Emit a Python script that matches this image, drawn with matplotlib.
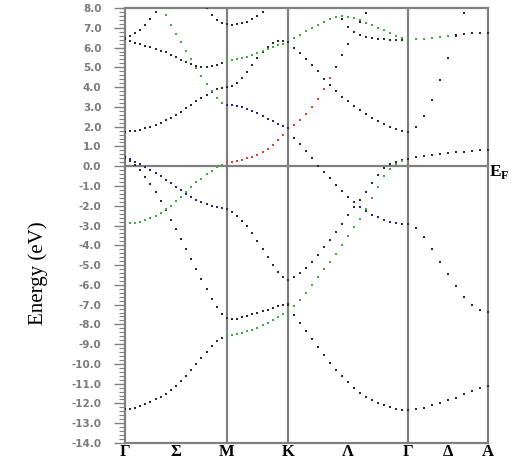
"""Band structure along Γ-M-K-Γ-A drawn as dotted bands."""
import matplotlib
matplotlib.use("Agg")
import matplotlib.pyplot as plt
from matplotlib.ticker import MultipleLocator, FormatStrFormatter
import numpy as np

plt.rcParams["axes.unicode_minus"] = False

K_LABELS    = ["Γ", "Σ", "M", "K", "Λ", "Γ", "Δ", "A"]
SEG_LENGTHS = [0.577, 0.345, 0.679, 0.453]   # Γ-M, M-K, K-Γ, Γ-A
SEG_POINTS  = [21, 13, 21, 11]

COLORS = {"k": "#2b2b2b", "g": "#3fae3f", "b": "#25258c", "r": "#e03a3a"}
FRAME  = "#808080"

# (colour, first k index, energies in eV)
GM_BANDS = [
    ("k", 0, [-12.3, -12.28, -12.25, -12.15, -12.05, -11.95, -11.8, -11.65, -11.5, -11.3, -11.1,
              -10.85, -10.6, -10.3, -10.0, -9.7, -9.4, -9.1, -8.85, -8.7, -8.6]),
    ("k", 0, [0.4, 0.25, 0.05, -0.2, -0.55, -0.9, -1.3, -1.75, -2.2, -2.7, -3.2,
              -3.7, -4.2, -4.7, -5.2, -5.7, -6.2, -6.7, -7.1, -7.5, -7.7]),
    ("b", 0, [0.45, 0.35, 0.2, 0.1, -0.05, -0.2, -0.35, -0.5, -0.7, -0.85, -1.05,
              -1.2, -1.4, -1.55, -1.7, -1.8, -1.9, -2.0, -2.05, -2.1, -2.15]),
    ("g", 0, [-2.9, -2.88, -2.85, -2.8, -2.72, -2.62, -2.5, -2.35, -2.18, -2.0, -1.78,
              -1.55, -1.3, -1.05, -0.8, -0.65, -0.42, -0.22, -0.05, 0.08, 0.18]),
    ("k", 0, [1.75, 1.76, 1.8, 1.85, 1.92, 2.0, 2.1, 2.2, 2.32, 2.45, 2.6,
              2.75, 2.92, 3.1, 3.28, 3.45, 3.62, 3.77, 3.88, 3.96, 4.0]),
    ("k", 0, [6.45, 6.35, 6.25, 6.18, 6.1, 6.02, 5.95, 5.85, 5.75, 5.62, 5.5,
              5.38, 5.25, 5.15, 5.07, 5.02, 5.0, 5.05, 5.12, 5.22, 5.32]),
    ("k", 0, [6.5, 6.58, 6.72, 6.9, 7.12, 7.45, 7.8, 8.2]),
    ("g", 7, [8.2, 7.65, 7.15, 6.7, 6.3, 5.85, 5.4, 4.95, 4.55, 4.15, 3.8, 3.45, 3.2, 3.1]),
    ("k", 16, [8.0, 7.65, 7.4, 7.25, 7.2]),
]

MK_BANDS = [
    ("k", 0, [7.2, 7.15, 7.18, 7.22, 7.3, 7.42, 7.6, 7.8, 8.05]),
    ("k", 0, [4.0, 4.05, 4.2, 4.45, 4.75, 5.1, 5.45, 5.8, 6.05, 6.25, 6.35, 6.35, 6.3]),
    ("g", 0, [5.32, 5.35, 5.4, 5.45, 5.5, 5.6, 5.7, 5.85, 5.95, 6.05, 6.15, 6.2, 6.25]),
    ("b", 0, [3.1, 3.1, 3.05, 3.0, 2.9, 2.8, 2.7, 2.55, 2.4, 2.3, 2.15, 2.05, 1.95]),
    ("r", 0, [0.2, 0.22, 0.27, 0.33, 0.4, 0.48, 0.58, 0.72, 0.88, 1.05, 1.3, 1.6, 1.95]),
    ("k", 0, [-2.15, -2.3, -2.5, -2.75, -3.05, -3.4, -3.8, -4.2, -4.6, -5.0, -5.35, -5.6, -5.75]),
    ("k", 0, [-7.7, -7.75, -7.72, -7.65, -7.58, -7.5, -7.42, -7.33, -7.25, -7.17, -7.08, -7.02, -6.95]),
    ("g", 0, [-8.6, -8.52, -8.48, -8.42, -8.35, -8.27, -8.17, -8.05, -7.92, -7.78, -7.62, -7.46, -7.3]),
]

KG_BANDS = [
    ("g", 0, [6.25, 6.5, 6.65, 6.85, 7.0, 7.15, 7.3, 7.45, 7.55, 7.58, 7.55,
              7.5, 7.4, 7.25, 7.12, 7.0, 6.9, 6.75, 6.6, 6.5, 6.4]),
    ("k", 0, [6.3, 6.0, 5.7, 5.4, 5.1, 4.8, 4.4, 4.1, 3.8, 3.5, 3.3,
              3.05, 2.85, 2.65, 2.45, 2.3, 2.15, 2.0, 1.9, 1.8, 1.75]),
    ("r", 0, [1.95, 2.1, 2.35, 2.65, 3.0, 3.4, 3.9, 4.45]),
    ("k", 8, [5.0, 5.6, 6.2, 6.8, 7.3, 7.75, 8.2]),
    ("k", 8, [8.05, 7.45, 7.05, 6.8, 6.65, 6.55, 6.5, 6.45, 6.42, 6.4, 6.4, 6.4, 6.4]),
    ("k", 0, [1.95, 1.45, 1.1, 0.75, 0.4, 0.0, -0.3, -0.6, -0.95, -1.25]),
    ("b", 10, [-1.55, -1.8, -2.05, -2.25, -2.45, -2.55, -2.7, -2.8, -2.85, -2.9, -2.9]),
    ("k", 0, [-5.75, -5.6, -5.4, -5.15, -4.85, -4.5, -4.1, -3.75, -3.35, -2.9, -2.45,
              -2.05, -1.7, -1.3, -0.85, -0.45, -0.1, 0.1, 0.2, 0.3, 0.35]),
    ("g", 0, [-7.3, -7.05, -6.75, -6.4, -6.0, -5.6, -5.2, -4.85, -4.45, -4.0, -3.55,
              -3.1, -2.65, -2.15, -1.6, -1.05, -0.5, -0.15, 0.1, 0.25, 0.35]),
    ("k", 0, [-7.0, -7.55, -7.95, -8.35, -8.75, -9.15, -9.55, -9.95, -10.3, -10.6, -10.9,
              -11.2, -11.45, -11.65, -11.85, -12.0, -12.1, -12.2, -12.3, -12.35, -12.35]),
]

GA_BANDS = [
    ("g", 0, [6.4, 6.42, 6.45, 6.5, 6.55, 6.6]),
    ("k", 6, [6.65, 6.7, 6.72, 6.75, 6.75]),
    ("k", 0, [1.75, 2.0, 2.55, 3.35, 4.35, 5.45, 6.6, 7.75, 8.9]),
    ("k", 0, [0.35, 0.45, 0.52, 0.58, 0.63, 0.67, 0.7, 0.73, 0.77, 0.8, 0.82]),
    ("k", 0, [-2.9, -3.15, -3.6, -4.2, -4.85, -5.45, -6.05, -6.6, -7.0, -7.25, -7.35]),
    ("k", 0, [-12.35, -12.3, -12.25, -12.1, -12.0, -11.85, -11.7, -11.5, -11.35, -11.2, -11.1]),
]

SEGMENT_BANDS = [GM_BANDS, MK_BANDS, KG_BANDS, GA_BANDS]

fig = plt.figure(figsize=(5.11, 4.63), dpi=100)
ax = fig.add_axes([0.2446, 0.0432, 0.7104, 0.9395])

edges = np.concatenate([[0.0], np.cumsum(SEG_LENGTHS)])
for seg, bands in enumerate(SEGMENT_BANDS):
    kk = np.linspace(edges[seg], edges[seg + 1], SEG_POINTS[seg])
    for c, start, energies in bands:
        ax.scatter(kk[start:start + len(energies)], energies, s=4.5, marker="s",
                   color=COLORS[c], linewidths=0, zorder=3)

for x in edges[1:-1]:
    ax.axvline(x, color=FRAME, lw=1.6, zorder=2)
ax.axhline(0.0, color=FRAME, lw=1.6, zorder=2)

ax.set_xlim(edges[0], edges[-1])
ax.set_ylim(-14.0, 8.0)

mids = (edges[:-1] + edges[1:]) / 2
tick_pos = [edges[0], mids[0], edges[1], edges[2], mids[2], edges[3], mids[3], edges[4]]
ax.set_xticks(tick_pos)
ax.set_xticklabels(K_LABELS, family="Liberation Serif", fontsize=12, fontweight="bold")
ax.tick_params(axis="x", length=0, pad=1)

ax.yaxis.set_major_locator(MultipleLocator(1.0))
ax.yaxis.set_minor_locator(MultipleLocator(0.2))
ax.yaxis.set_major_formatter(FormatStrFormatter("%.1f"))
ax.tick_params(axis="y", which="major", length=8, width=1, color=FRAME, pad=9,
               labelsize=7.5, labelcolor="#7a7a7a")
ax.tick_params(axis="y", which="minor", length=4, width=0.8, color=FRAME)
for lab in ax.get_yticklabels():
    lab.set_fontweight("bold")

for sp in ax.spines.values():
    sp.set_color(FRAME)
    sp.set_linewidth(1.6)

fig.text(0.075, 0.41, "Energy (eV)", rotation=90, family="Liberation Serif",
         fontsize=15, ha="center", va="center")
fig.text(0.957, 0.6285, r"E$_\mathregular{F}$", family="Liberation Serif",
         fontsize=12.5, fontweight="bold", ha="left", va="center")

fig.savefig("out.png", dpi=100)
